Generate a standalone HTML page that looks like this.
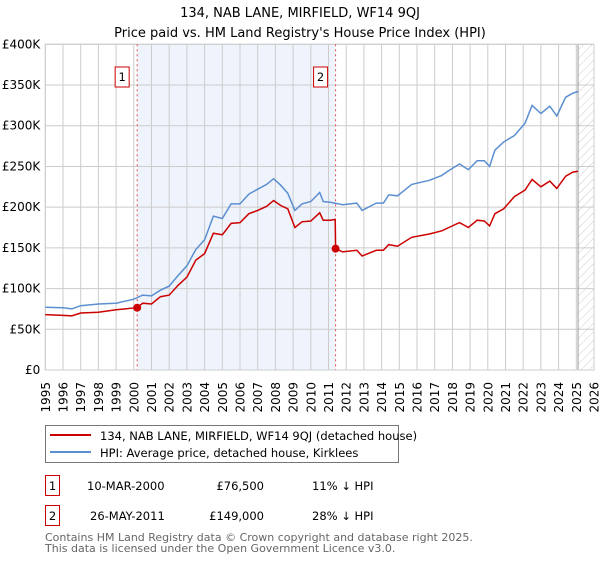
<!DOCTYPE html>
<html><head><meta charset="utf-8"><style>
body{margin:0;background:#fff;font-family:"DejaVu Sans","Liberation Sans",sans-serif;}
svg text{font-family:"DejaVu Sans","Liberation Sans",sans-serif;}
</style></head><body>
<svg id="chart" width="600" height="560" viewBox="0 0 600 560" xmlns="http://www.w3.org/2000/svg">
<defs>
<pattern id="hatch" width="6" height="6" patternUnits="userSpaceOnUse" patternTransform="rotate(45)">
<line x1="0" y1="0" x2="0" y2="6" stroke="#ccc" stroke-width="1"/></pattern>
</defs>
<text x="300" y="17" text-anchor="middle" font-size="13">134, NAB LANE, MIRFIELD, WF14 9QJ</text>
<text x="300" y="37" text-anchor="middle" font-size="13">Price paid vs. HM Land Registry's House Price Index (HPI)</text>
<g id="plot"></g>
<rect x="45.5" y="425.5" width="353" height="37" fill="#fff" stroke="#777"/>
<line x1="50" y1="435" x2="91" y2="435" stroke="#cc0000" stroke-width="2"/>
<text x="100" y="440" font-size="11.5">134, NAB LANE, MIRFIELD, WF14 9QJ (detached house)</text>
<line x1="50" y1="452" x2="91" y2="452" stroke="#5b8fd0" stroke-width="2"/>
<text x="100" y="457" font-size="11.5">HPI: Average price, detached house, Kirklees</text>
<g font-size="11.5">
<rect x="45.5" y="475.5" width="14" height="20" fill="#fff" stroke="#cc0000"/>
<text x="52.5" y="490" text-anchor="middle">1</text>
<text x="87" y="490">10-MAR-2000</text>
<text x="264" y="490" text-anchor="end">£76,500</text>
<text x="312" y="490">11% ↓ HPI</text>
</g>
<g font-size="11.5">
<rect x="45.5" y="505.5" width="14" height="20" fill="#fff" stroke="#cc0000"/>
<text x="52.5" y="520" text-anchor="middle">2</text>
<text x="90" y="520">26-MAY-2011</text>
<text x="264" y="520" text-anchor="end">£149,000</text>
<text x="312" y="520">28% ↓ HPI</text>
</g>
<text x="45" y="541" font-size="11" fill="#666">Contains HM Land Registry data © Crown copyright and database right 2025.</text>
<text x="45" y="552" font-size="11" fill="#666">This data is licensed under the Open Government Licence v3.0.</text>
</svg>
<script>
const hpiYears=[1995,1996,1996.5,1997,1998,1999,2000,2000.5,2001,2001.5,2002,2002.5,2003,2003.5,2004,2004.5,2005,2005.5,2006,2006.5,2007,2007.5,2007.9,2008.3,2008.7,2009.1,2009.5,2010,2010.5,2010.7,2011.1,2011.8,2012.6,2012.9,2013.7,2014.1,2014.4,2014.9,2015.7,2016.7,2017.4,2017.8,2018.4,2018.9,2019.4,2019.8,2020.1,2020.4,2020.9,2021.5,2022.1,2022.5,2023.0,2023.5,2023.9,2024.4,2024.8,2025.1];
const hpiValues=[77,76.5,75,79,81,82,87,92,91,98,103,116,128,148,160,189,186,204,204,216,222,228,235,227,217,196,204,207,218,207,206,203,205,196,205,205,215,214,228,233,239,245,253,246,257,257,250,270,280,288,303,325,315,324,312,335,340,342];
const propYears=[1995,1996,1996.5,1997,1998,1999,2000.19,2000.5,2001,2001.5,2002,2002.5,2003,2003.5,2004,2004.5,2005,2005.5,2006,2006.5,2007,2007.5,2007.9,2008.3,2008.7,2009.1,2009.5,2010,2010.5,2010.7,2011.1,2011.38,2011.4,2011.8,2012.6,2012.9,2013.7,2014.1,2014.4,2014.9,2015.7,2016.7,2017.4,2017.8,2018.4,2018.9,2019.4,2019.8,2020.1,2020.4,2020.9,2021.5,2022.1,2022.5,2023.0,2023.5,2023.9,2024.4,2024.8,2025.1];
const propValues=[68,67,66.5,70,71,74,76.5,82,81,90,92,104,114,135,143,168,166,180,181,192,196,201,208,202,198,175,182,183,193,184,184,185,149,145,147,140,147,147,154,152,163,167,171,175,181,175,184,183,177,192,198,213,221,234,225,232,223,238,243,244];
const saleYears=[2000.19,2011.40];
const saleValues=[76.5,149];
const saleLabels=["1","2"];
const yTicks=[0,50,100,150,200,250,300,350,400];
const yTickLabels=["£0","£50K","£100K","£150K","£200K","£250K","£300K","£350K","£400K"];
const xTicks=[1995,1996,1997,1998,1999,2000,2001,2002,2003,2004,2005,2006,2007,2008,2009,2010,2011,2012,2013,2014,2015,2016,2017,2018,2019,2020,2021,2022,2023,2024,2025,2026];

const L=45.3,R=594,T=44.3,B=370,X0=1995,X1=2026,Ymax=400;
const xs=v=>L+(v-X0)/(X1-X0)*(R-L);
const ys=v=>B-v/Ymax*(B-T);
const NS="http://www.w3.org/2000/svg";
const g=document.getElementById('plot');
function mk(t,a,p){const e=document.createElementNS(NS,t);for(const k in a)e.setAttribute(k,a[k]);(p||g).appendChild(e);return e;}
let e;
e=mk('rect',{x:xs(saleYears[0]),y:T,width:xs(saleYears[1])-xs(saleYears[0]),height:B-T,fill:'#eef3fc'});


e=mk('rect',{x:xs(2025.1),y:T,width:R-xs(2025.1),height:B-T,fill:'url(#hatch)'});


xTicks.forEach(t=>{
 e=mk('line',{x1:xs(t),x2:xs(t),y1:T,y2:B,stroke:'#ccc','stroke-width':1});
 
 
 const tx=xs(t)+4.5,ty=B+12;
 e=mk('text',{x:tx,y:ty,'text-anchor':'end','font-size':12,transform:'rotate(-90 '+tx+' '+ty+')'});
 e.textContent=t;
 
 
});
yTicks.forEach((t,i)=>{
 e=mk('line',{x1:L,x2:R,y1:ys(t),y2:ys(t),stroke:'#ccc','stroke-width':1});
 
 
 e=mk('text',{x:L-5,y:ys(t)+4,'text-anchor':'end','font-size':12});
 e.textContent=yTickLabels[i];
 
 
});
e=mk('line',{x1:xs(2025.1),x2:xs(2025.1),y1:T,y2:B,stroke:'#999','stroke-width':1});


e=mk('rect',{x:L,y:T,width:R-L,height:B-T,fill:'none',stroke:'#ccc'});


saleYears.forEach((s,i)=>{
 e=mk('line',{x1:xs(s),x2:xs(s),y1:T,y2:B,stroke:'#e05050','stroke-width':1,'stroke-dasharray':'2,3'});
 
 
});
const path=(xa,ya)=>xa.map((x,i)=>(i?'L':'M')+xs(x).toFixed(1)+','+ys(ya[i]).toFixed(1)).join('');
e=mk('path',{d:path(hpiYears,hpiValues),fill:'none',stroke:'#5b8fd0','stroke-width':1.5});


e=mk('path',{d:path(propYears,propValues),fill:'none',stroke:'#cc0000','stroke-width':1.5});


saleYears.forEach((s,i)=>{
 e=mk('circle',{cx:xs(s),cy:ys(saleValues[i]),r:4,fill:'#cc0000'});
 
 
 const bx=xs(s)-15;
 e=mk('rect',{x:bx-7,y:67,width:14,height:20,fill:'#fff',stroke:'#cc0000'});
 
 
 e=mk('text',{x:bx,y:81,'text-anchor':'middle','font-size':11.5});
 e.textContent=saleLabels[i];
 
 
});
</script>
</body></html>
